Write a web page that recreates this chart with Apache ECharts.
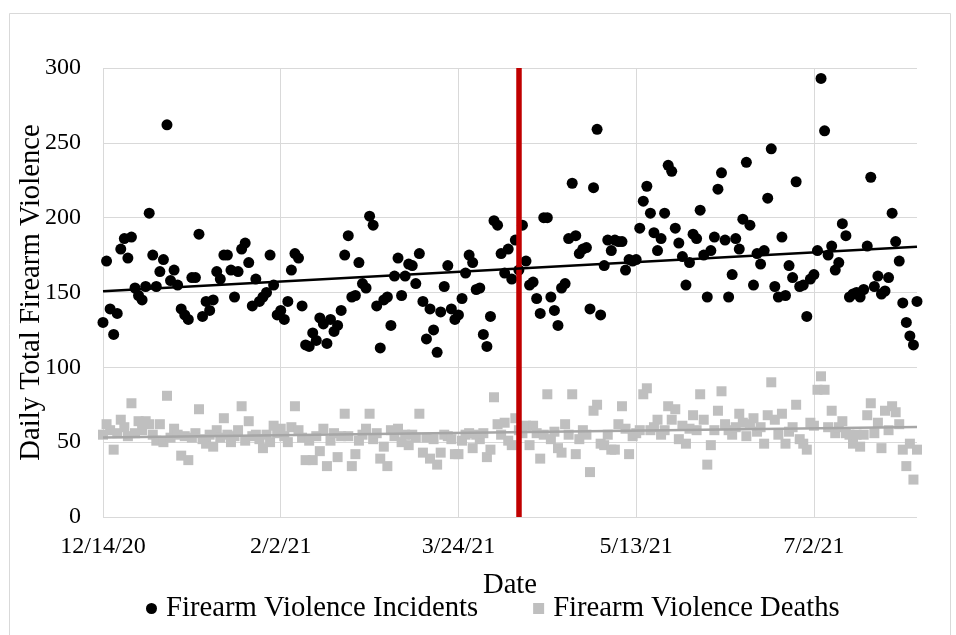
<!DOCTYPE html>
<html>
<head>
<meta charset="utf-8">
<script src="https://cdn.jsdelivr.net/npm/echarts@6/dist/echarts.min.js"></script>
<style>
html,body{margin:0;padding:0;background:#fff;}
#chart{width:956px;height:635px;}
</style>
</head>
<body>
<div id="chart"></div>
<script>
// x = day index counted from 12/14/20
const xTickLabels = ['12/14/20', '2/2/21', '3/24/21', '5/13/21', '7/2/21'];
const xTickStep = 50;
const lastDay = 229;
const policyDay = 117;

const incidents = [
  130,171,139,122,136,179,186,173,187,153,
  148,145,154,203,175,154,164,172,262,158,
  165,155,139,135,132,160,160,189,134,144,
  138,145,164,159,175,175,165,147,164,179,
  183,170,141,159,144,147,150,175,155,135,
  138,132,144,165,176,173,141,115,114,123,
  118,133,129,116,132,124,128,138,175,188,
  147,148,170,156,153,201,195,141,113,145,
  147,128,161,173,148,161,169,168,156,176,
  144,119,139,125,110,137,154,168,139,132,
  135,146,163,175,170,152,153,122,114,134,
  198,195,176,163,179,159,185,165,195,171,
  155,157,146,136,200,200,147,138,128,153,
  156,186,223,188,176,179,180,139,220,259,
  135,168,185,178,185,184,184,165,172,171,
  172,193,211,221,203,190,178,186,203,235,
  231,193,183,174,155,170,189,186,205,175,
  147,178,187,219,230,185,147,162,186,179,
  199,237,195,155,176,169,178,213,246,154,
  147,187,148,168,160,224,154,155,134,159,
  162,178,293,258,175,181,165,170,196,188,
  147,149,150,147,152,181,227,154,161,149,
  151,160,203,184,171,143,130,121,115,144
];

const deaths = [
  55,62,58,45,56,65,60,54,76,56,
  64,58,64,62,55,51,62,50,81,53,
  59,55,41,54,38,53,56,72,52,49,
  55,47,58,53,66,55,50,54,58,74,
  51,64,54,55,52,46,55,50,61,56,
  59,54,50,60,74,58,53,38,51,38,
  54,44,59,34,51,56,40,54,69,54,
  34,42,51,55,59,69,52,56,39,47,
  34,58,54,59,50,55,48,55,53,69,
  43,53,39,52,35,43,55,54,52,42,
  42,51,55,56,46,55,52,56,40,45,
  80,62,55,63,51,48,66,58,56,61,
  48,61,56,39,55,82,52,57,46,43,
  62,55,82,42,52,58,55,30,71,75,
  49,48,55,45,45,62,74,59,42,54,
  56,58,82,86,58,60,65,55,58,74,
  65,72,52,61,49,59,68,58,82,65,
  35,48,58,71,84,62,58,55,60,69,
  63,54,62,66,57,60,49,68,90,65,
  55,69,49,57,60,75,52,49,45,63,
  61,85,94,85,60,71,56,60,64,56,
  55,49,55,47,55,68,76,56,63,46,
  71,58,74,70,62,45,34,49,25,45
];

const seriesNames = ['Firearm Violence Incidents', 'Firearm Violence Deaths'];

function toPoints(arr) { return arr.map((v, i) => [i, v]); }
function trend(arr) {
  const n = arr.length;
  let sx = 0, sy = 0, sxx = 0, sxy = 0;
  arr.forEach((v, i) => { sx += i; sy += v; sxx += i * i; sxy += i * v; });
  const b = (n * sxy - sx * sy) / (n * sxx - sx * sx);
  const a = (sy - b * sx) / n;
  return [[0, a], [n - 1, a + b * (n - 1)]];
}

const FONT = "'Liberation Serif', 'Times New Roman', serif";
const GRID = '#d9d9d9';
const TITLE_SIZE = 28.7;
const TICK_SIZE = 24;

const chart = echarts.init(document.getElementById('chart'), null, { renderer: 'canvas' });
chart.setOption({
  animation: false,
  backgroundColor: '#ffffff',
  textStyle: { fontFamily: FONT, color: '#000' },
  graphic: [{
    type: 'rect', left: 7, top: 11, silent: true, z: -10,
    shape: { width: 941, height: 640 },
    style: { fill: 'none', stroke: GRID, lineWidth: 1 }
  }],
  grid: { left: 103, top: 68, right: 39, bottom: 118, containLabel: false, outerBoundsMode: 'none' },
  legend: {
    left: 146, top: 594, padding: 0,
    itemWidth: 11, itemHeight: 11, itemGap: 55,
    textStyle: { fontFamily: FONT, fontSize: TITLE_SIZE, color: '#000', padding: [0, 0, 0, 4] },
    data: [
      { name: seriesNames[0], icon: 'circle', itemStyle: { color: '#000' } },
      { name: seriesNames[1], icon: 'rect', itemStyle: { color: '#bfbfbf' } }
    ]
  },
  xAxis: {
    type: 'value', min: 0, max: lastDay, interval: xTickStep,
    name: 'Date', nameLocation: 'middle', nameGap: 54, nameMoveOverlap: false,
    nameTextStyle: { fontFamily: FONT, fontSize: TITLE_SIZE, color: '#000' },
    axisLine: { show: false }, axisTick: { show: false },
    axisLabel: {
      fontFamily: FONT, fontSize: TICK_SIZE, color: '#000', margin: 18,
      showMaxLabel: false,
      formatter: v => (v % xTickStep === 0 ? (xTickLabels[v / xTickStep] || '') : '')
    },
    splitLine: { show: true, showMaxLine: false, lineStyle: { color: GRID, width: 1 } }
  },
  yAxis: {
    type: 'value', min: 0, max: 300, interval: 50,
    name: 'Daily Total Firearm Violence', nameLocation: 'middle', nameGap: 57, nameMoveOverlap: false,
    nameTextStyle: { fontFamily: FONT, fontSize: TITLE_SIZE, color: '#000' },
    axisLine: { show: false }, axisTick: { show: false },
    axisLabel: { fontFamily: FONT, fontSize: TICK_SIZE, color: '#000', margin: 22 },
    splitLine: { show: true, lineStyle: { color: GRID, width: 1 } }
  },
  series: [
    {
      name: seriesNames[1], type: 'scatter', symbol: 'rect', symbolSize: 10,
      itemStyle: { color: '#bfbfbf', opacity: 1 }, z: 2,
      data: toPoints(deaths)
    },
    {
      name: seriesNames[0], type: 'scatter', symbol: 'circle', symbolSize: 11,
      itemStyle: { color: '#000', opacity: 1 }, z: 3,
      data: toPoints(incidents)
    },
    {
      name: 'deaths-trend', type: 'line', data: trend(deaths), showSymbol: false, symbol: 'none',
      lineStyle: { color: '#a6a6a6', width: 2.5 }, z: 4, silent: true
    },
    {
      name: 'incidents-trend', type: 'line', data: trend(incidents), showSymbol: false, symbol: 'none',
      lineStyle: { color: '#000', width: 2.5 }, z: 5, silent: true
    },
    {
      name: 'policy', type: 'line', data: [], z: 6, silent: true,
      markLine: {
        symbol: ['none', 'none'], silent: true, animation: false,
        label: { show: false },
        lineStyle: { color: '#c00000', width: 5.5, type: 'solid' },
        emphasis: { disabled: true },
        data: [{ xAxis: policyDay }]
      }
    }
  ]
});
</script>
</body>
</html>
